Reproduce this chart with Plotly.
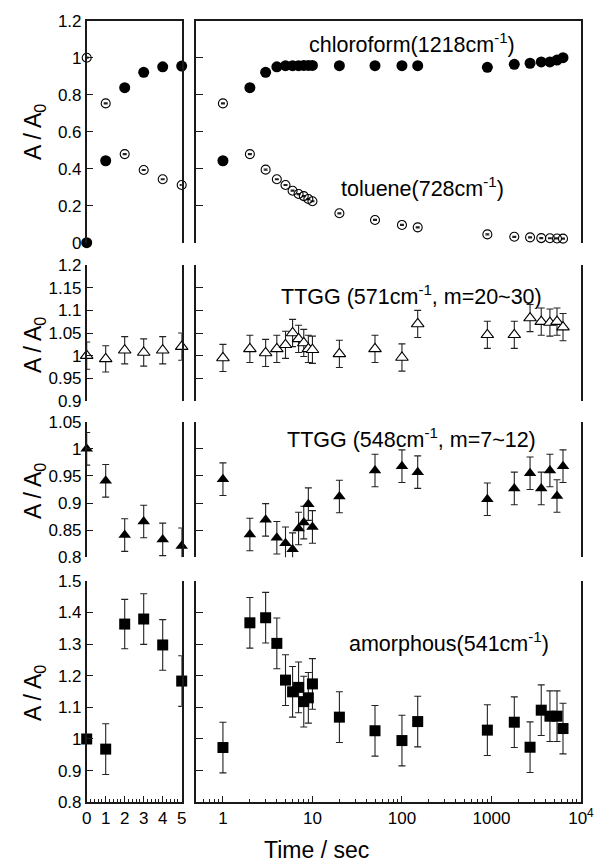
import plotly.graph_objects as go

# ---------------- data ----------------
t_lin = [0, 1, 2, 3, 4, 5]
t_log = [1, 2, 3, 4, 5, 6, 7, 8, 9, 10, 20, 50, 100, 150, 900, 1800, 2700, 3600, 4500, 5400, 6300]

chloro_lin = [0.0, 0.443, 0.838, 0.921, 0.951, 0.955]
toluene_lin = [1.0, 0.753, 0.479, 0.393, 0.343, 0.312]
chloro_log = [0.443, 0.838, 0.921, 0.951, 0.957, 0.957, 0.957, 0.958, 0.958, 0.958, 0.957,
              0.957, 0.957, 0.957, 0.948, 0.964, 0.970, 0.977, 0.977, 0.987, 1.0]
toluene_log = [0.753, 0.479, 0.395, 0.343, 0.312, 0.281, 0.263, 0.252, 0.236, 0.224, 0.159,
               0.123, 0.096, 0.083, 0.045, 0.032, 0.029, 0.025, 0.024, 0.023, 0.022]
toluene_err_lin = [0.003] * 6
toluene_err_log = [0.003] * 21

ttgg571_lin = [1.0, 0.993, 1.012, 1.007, 1.012, 1.02]
ttgg571_lin_err = [0.03, 0.029, 0.03, 0.03, 0.03, 0.03]
ttgg571_log = [0.995, 1.015, 1.006, 1.015, 1.024, 1.05, 1.037, 1.028, 1.015, 1.013, 1.004,
               1.015, 0.996, 1.07, 1.046, 1.046, 1.083, 1.075, 1.073, 1.075, 1.063]
ttgg571_log_err = [0.03] * 21

ttgg548_lin = [1.0, 0.941, 0.841, 0.866, 0.833, 0.821]
ttgg548_lin_err = [0.03, 0.03, 0.03, 0.03, 0.03, 0.033]
ttgg548_log = [0.944, 0.842, 0.869, 0.836, 0.826, 0.815, 0.853, 0.864, 0.898, 0.856, 0.912,
               0.96, 0.968, 0.957, 0.907, 0.927, 0.955, 0.927, 0.96, 0.913, 0.968]
ttgg548_log_err = [0.03] * 21

amorph_lin = [1.0, 0.968, 1.363, 1.379, 1.297, 1.183]
amorph_lin_err = [0.0, 0.08, 0.078, 0.08, 0.08, 0.08]
amorph_log = [0.973, 1.367, 1.383, 1.302, 1.186, 1.149, 1.163, 1.118, 1.13, 1.174, 1.069,
              1.026, 0.995, 1.055, 1.028, 1.053, 0.974, 1.091, 1.072, 1.072, 1.033]
amorph_log_err = [0.08] * 21

row_labels = ["chloroform(1218cm<sup>-1</sup>)", "toluene(728cm<sup>-1</sup>)",
              "TTGG (571cm<sup>-1</sup>, m=20~30)", "TTGG (548cm<sup>-1</sup>, m=7~12)",
              "amorphous(541cm<sup>-1</sup>)"]

y_ticks = [
    [0, 0.2, 0.4, 0.6, 0.8, 1.0, 1.2],
    [0.9, 0.95, 1.0, 1.05, 1.1, 1.15, 1.2],
    [0.8, 0.85, 0.9, 0.95, 1.0, 1.05],
    [0.8, 0.9, 1.0, 1.1, 1.2, 1.3, 1.4, 1.5],
]
y_ticktext = [
    ["0", "0.2", "0.4", "0.6", "0.8", "1", "1.2"],
    ["0.9", "0.95", "1", "1.05", "1.1", "1.15", "1.2"],
    ["0.8", "0.85", "0.9", "0.95", "1", "1.05"],
    ["0.8", "0.9", "1", "1.1", "1.2", "1.3", "1.4", "1.5"],
]
y_ranges = [[0, 1.2], [0.9, 1.2], [0.8, 1.05], [0.8, 1.5]]
log_tickvals = [1, 10, 100, 1000, 10000]
log_ticktext = ["1", "10", "100", "1000", "10<sup>4</sup>"]
lin_tickvals = [0, 1, 2, 3, 4, 5]

# ---------------- layout geometry ----------------
# the page body margin is removed by the post script, so the figure fills the window
OFF = 0
W, H = 594, 862
def px_x(a, b):
    return [(a - OFF) / W, (b - OFF) / W]
def px_y(top, bottom):
    return [1 - (bottom - OFF) / H, 1 - (top - OFF) / H]
def pxx(a):
    return (a - OFF) / W
def pxy(a):
    return 1 - (a - OFF) / H

x_dom_left = px_x(86.7, 181.7)
x_dom_right = px_x(196, 581)
y_doms = [px_y(20.7, 242.7), px_y(265, 401), px_y(421.7, 557.3), px_y(580.7, 802.3)]

FONT = "Arial, Liberation Sans, sans-serif"
AX = "#1a1a1a"

fig = go.Figure()

def add(x, y, err, r, side, symbol, size, fill, errw=3.5):
    idx = 2 * r + (1 if side == 0 else 2)
    if fill == "solid":
        mk = dict(symbol=symbol, size=size, color="black", line=dict(width=0))
    elif fill == "open":
        mk = dict(symbol=symbol + "-open", size=size, color="black",
                  line=dict(color="black", width=1.1))
    else:
        mk = dict(symbol=symbol, size=size, color="white",
                  line=dict(color="black", width=1.1))
    tr = go.Scatter(
        x=x, y=y, mode="markers", marker=mk, cliponaxis=False, showlegend=False,
        xaxis="x" + ("" if idx == 1 else str(idx)),
        yaxis="y" + ("" if idx == 1 else str(idx)),
    )
    if err is not None:
        tr.error_y = dict(type="data", array=err, visible=True, color="#222",
                          thickness=1.1, width=errw)
    fig.add_trace(tr)

# Row 1
add(t_lin, toluene_lin, toluene_err_lin, 0, 0, "circle", 9, "open", 2)
add(t_lin, chloro_lin, None, 0, 0, "circle", 11, "solid")
add(t_log, toluene_log, toluene_err_log, 0, 1, "circle", 9, "open", 2)
add(t_log, chloro_log, None, 0, 1, "circle", 11, "solid")
# Row 2
add(t_lin, ttgg571_lin, ttgg571_lin_err, 1, 0, "triangle-up", 11, "white")
add(t_log, ttgg571_log, ttgg571_log_err, 1, 1, "triangle-up", 11, "white")
# Row 3
add(t_lin, ttgg548_lin, ttgg548_lin_err, 2, 0, "triangle-up", 11, "solid")
add(t_log, ttgg548_log, ttgg548_log_err, 2, 1, "triangle-up", 11, "solid")
# Row 4
add(t_lin, amorph_lin, amorph_lin_err, 3, 0, "square", 11, "solid")
add(t_log, amorph_log, amorph_log_err, 3, 1, "square", 11, "solid")

# minor log ticks
minor_log = [m * 10 ** e for e in range(-1, 4) for m in range(2, 10)
             if 0.5 <= m * 10 ** e <= 10000]

layout = dict(
    width=W, height=H, margin=dict(l=0, r=0, t=0, b=0, autoexpand=False),
    paper_bgcolor="white", plot_bgcolor="white",
    font=dict(family=FONT, size=17, color="black"),
    showlegend=False, template="none",
)

for r in range(4):
    for side in (0, 1):
        idx = 2 * r + side + 1
        xs = "" if idx == 1 else str(idx)
        xa = dict(domain=x_dom_left if side == 0 else x_dom_right,
                  anchor="y" + xs, showgrid=False, zeroline=False, automargin=False,
                  linecolor=AX, linewidth=1.5, ticklabeloverflow="allow")
        if side == 0:
            xa.update(range=[0, 5], type="linear")
        else:
            xa.update(range=[-0.301, 4.0005], type="log")
        if r == 0:
            xa.update(side="top", showline=True, ticks="", showticklabels=False)
        elif r < 3:
            xa.update(showline=False, ticks="", showticklabels=False)
        else:
            xa.update(showline=True, ticks="inside", ticklen=7, tickwidth=1.2,
                      tickcolor=AX, showticklabels=True, tickfont=dict(size=17))
            if side == 0:
                xa.update(tickmode="array", tickvals=lin_tickvals,
                          ticktext=[str(v) for v in lin_tickvals],
                          minor=dict(tickmode="linear", tick0=0, dtick=0.2,
                                     ticks="inside", ticklen=4, tickcolor=AX, tickwidth=1))
            else:
                xa.update(tickmode="array", tickvals=log_tickvals, ticktext=log_ticktext,
                          minor=dict(tickmode="array", tickvals=minor_log,
                                     ticks="inside", ticklen=4, tickcolor=AX, tickwidth=1))
        layout["xaxis" + xs] = xa

        ya = dict(domain=y_doms[r], anchor="x" + xs, range=y_ranges[r],
                  showgrid=False, zeroline=False, showline=True, mirror=True,
                  automargin=False, ticklabeloverflow="allow",
                  linecolor=AX, linewidth=1.5, ticks="inside", ticklen=7,
                  tickwidth=1.2, tickcolor=AX, tickmode="array",
                  tickvals=y_ticks[r], ticktext=y_ticktext[r],
                  showticklabels=(side == 0), tickfont=dict(size=17))
        layout["yaxis" + xs] = ya

fig.update_layout(**layout)

# Y titles
for yc in [132, 345, 491, 693]:
    fig.add_annotation(text="A / A<sub>0</sub>", xref="paper", yref="paper",
                       x=pxx(34), y=pxy(yc), showarrow=False, textangle=-90,
                       font=dict(size=23, family=FONT), xanchor="center", yanchor="middle")

# X title
fig.add_annotation(text="Time / sec", xref="paper", yref="paper", x=pxx(316.7),
                   y=pxy(850), showarrow=False, font=dict(size=23, family=FONT),
                   xanchor="center", yanchor="middle")

# Series labels
label_pos = [(412, 43), (422, 187), (412, 295), (412, 438), (449, 642)]
for txt, (lx, ly) in zip(row_labels, label_pos):
    fig.add_annotation(text=txt, xref="paper", yref="paper", x=pxx(lx), y=pxy(ly),
                       showarrow=False, font=dict(size=21.5, family=FONT),
                       xanchor="center", yanchor="middle")

fig.write_html(
    "out.html",
    config={"displayModeBar": False},
    post_script="document.body.style.margin='0px';document.body.style.overflow='hidden';",
)
